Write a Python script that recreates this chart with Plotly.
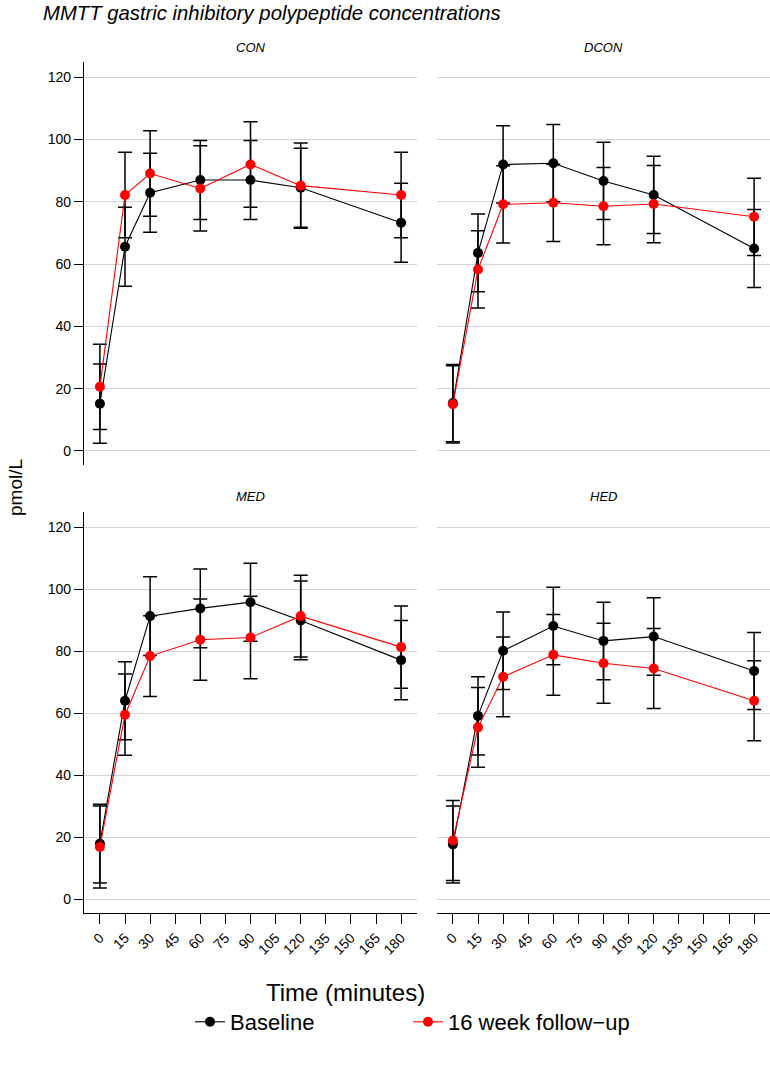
import plotly.graph_objects as go

# ---------------- data ----------------
times = [0, 15, 30, 60, 90, 120, 180]
x_ticks = [0, 15, 30, 45, 60, 75, 90, 105, 120, 135, 150, 165, 180]
y_ticks = [0, 20, 40, 60, 80, 100, 120]
panel_names = ["CON", "DCON", "MED", "HED"]
series_names = ["Baseline", "16 week follow\u2212up"]

con_base = [15.2, 65.6, 82.9, 87.0, 87.0, 84.5, 73.3]
con_base_se = [12.7, 12.7, 12.7, 12.7, 12.7, 12.7, 12.7]
con_fu = [20.6, 82.2, 89.1, 84.3, 92.0, 85.2, 82.2]
con_fu_se = [13.7, 13.7, 13.7, 13.7, 13.7, 13.7, 13.7]

dcon_base = [15.4, 63.6, 92.0, 92.4, 86.7, 82.2, 65.0]
dcon_base_se = [12.4, 12.5, 12.4, 12.4, 12.4, 12.4, 12.5]
dcon_fu = [15.0, 58.3, 79.2, 79.7, 78.6, 79.3, 75.2]
dcon_fu_se = [12.4, 12.4, 12.4, 12.4, 12.4, 12.4, 12.4]

med_base = [17.9, 64.0, 91.3, 93.8, 95.8, 89.9, 77.1]
med_base_se = [12.7, 12.6, 12.7, 12.7, 12.6, 12.7, 12.8]
med_fu = [16.8, 59.5, 78.4, 83.7, 84.4, 91.3, 81.3]
med_fu_se = [13.2, 13.1, 13.0, 13.1, 13.3, 13.2, 13.3]

hed_base = [17.6, 59.1, 80.1, 88.1, 83.3, 84.7, 73.6]
hed_base_se = [12.4, 12.6, 12.5, 12.5, 12.5, 12.5, 12.4]
hed_fu = [18.9, 55.4, 71.7, 78.8, 76.1, 74.4, 64.0]
hed_fu_se = [12.9, 12.9, 12.9, 13.0, 12.9, 12.9, 12.9]

panel_data = [
    (con_base, con_base_se, con_fu, con_fu_se),
    (dcon_base, dcon_base_se, dcon_fu, dcon_fu_se),
    (med_base, med_base_se, med_fu, med_fu_se),
    (hed_base, hed_base_se, hed_fu, hed_fu_se),
]

# ---------------- style ----------------
FONT = "Liberation Sans, Arial, Helvetica, sans-serif"
COLORS = ["#000000", "#ff0000"]
GRID = "#d3d3d3"

W, H = 770, 1065
PLOT_L, PLOT_R, PLOT_T, PLOT_B = 84, 770, 62, 913   # screen pixels
ML = PLOT_L
MR = W - PLOT_R
MT = PLOT_T
MB = H - PLOT_B
PW, PH = W - ML - MR, H - MT - MB


def px_x(p):
    return (p - PLOT_L) / PW


def px_y(p):
    return (PLOT_B - p) / PH


x_dom = [[0, px_x(417)], [px_x(437), 1.0]]
y_dom = [[px_y(465), 1.0], [0, px_y(512)]]

fig = go.Figure()

for i, (b, bse, f, fse) in enumerate(panel_data):
    ax = "" if i == 0 else str(i + 1)
    for s, (vals, se) in enumerate([(b, bse), (f, fse)]):
        fig.add_trace(go.Scatter(
            x=times, y=vals,
            xaxis="x" + ax, yaxis="y" + ax,
            mode="lines+markers",
            name=series_names[s],
            legend="legend" if s == 0 else "legend2",
            showlegend=(i == 0),
            line=dict(color=COLORS[s], width=1.1),
            marker=dict(color=COLORS[s], size=10),
            error_y=dict(type="data", array=se, visible=True,
                         color="#000000", thickness=1.5, width=7),
            hoverinfo="x+y",
        ))

layout = dict(
    width=W, height=H,
    margin=dict(l=ML, r=MR, t=MT, b=MB, pad=0),
    paper_bgcolor="white", plot_bgcolor="white",
    font=dict(family=FONT, color="black", size=14),
    showlegend=True,
)

for i in range(4):
    r, c = divmod(i, 2)
    ax = "" if i == 0 else str(i + 1)
    bottom = (r == 1)
    left = (c == 0)
    layout["xaxis" + ax] = dict(
        domain=x_dom[c], anchor="y" + ax,
        range=[-9.5, 189.5],
        tickmode="array", tickvals=x_ticks,
        ticktext=[str(t) for t in x_ticks],
        tickangle=-45,
        showgrid=False, zeroline=False,
        showline=bottom, linecolor="black", linewidth=1.3,
        ticks="outside" if bottom else "", ticklen=10, tickwidth=1.3,
        tickcolor="black",
        showticklabels=bottom,
        tickfont=dict(size=14),
    )
    layout["yaxis" + ax] = dict(
        domain=y_dom[r], anchor="x" + ax,
        range=[-4.5, 124.9],
        tickmode="array", tickvals=y_ticks,
        showgrid=True, gridcolor=GRID, gridwidth=1,
        zeroline=False,
        showline=left, linecolor="black", linewidth=1.3,
        ticks="outside" if left else "", ticklen=9, tickwidth=1.3,
        tickcolor="black",
        showticklabels=left,
        tickfont=dict(size=14),
    )

layout["legend"] = dict(
    orientation="h", x=px_x(190), y=px_y(1022),
    xanchor="left", yanchor="middle",
    font=dict(size=22), bgcolor="rgba(0,0,0,0)",
)
layout["legend2"] = dict(
    orientation="h", x=px_x(408), y=px_y(1022),
    xanchor="left", yanchor="middle",
    font=dict(size=22), bgcolor="rgba(0,0,0,0)",
)

annotations = []
title_pos = [(250.5, 48), (603.5, 48), (250.5, 497), (603.5, 497)]
for name, (tx, ty) in zip(panel_names, title_pos):
    annotations.append(dict(
        text="<i>" + name + "</i>", x=px_x(tx), y=px_y(ty),
        xref="paper", yref="paper", showarrow=False,
        xanchor="center", yanchor="middle", font=dict(size=13),
    ))
annotations.append(dict(
    text="<i>MMTT gastric inhibitory polypeptide concentrations</i>",
    x=px_x(41), y=px_y(13), xref="paper", yref="paper", showarrow=False,
    xanchor="left", yanchor="middle", font=dict(size=20.3),
))
annotations.append(dict(
    text="pmol/L", x=px_x(15), y=px_y(488), xref="paper", yref="paper",
    showarrow=False, textangle=-90, xanchor="center", yanchor="middle",
    font=dict(size=19),
))
annotations.append(dict(
    text="Time (minutes)", x=px_x(345), y=px_y(993), xref="paper",
    yref="paper", showarrow=False, xanchor="center", yanchor="middle",
    font=dict(size=24),
))
layout["annotations"] = annotations

fig.update_layout(**layout)
fig.write_html(
    "out.html",
    config={"displayModeBar": False},
    post_script="document.body.style.margin='0px';document.body.style.overflow='hidden';",
)
